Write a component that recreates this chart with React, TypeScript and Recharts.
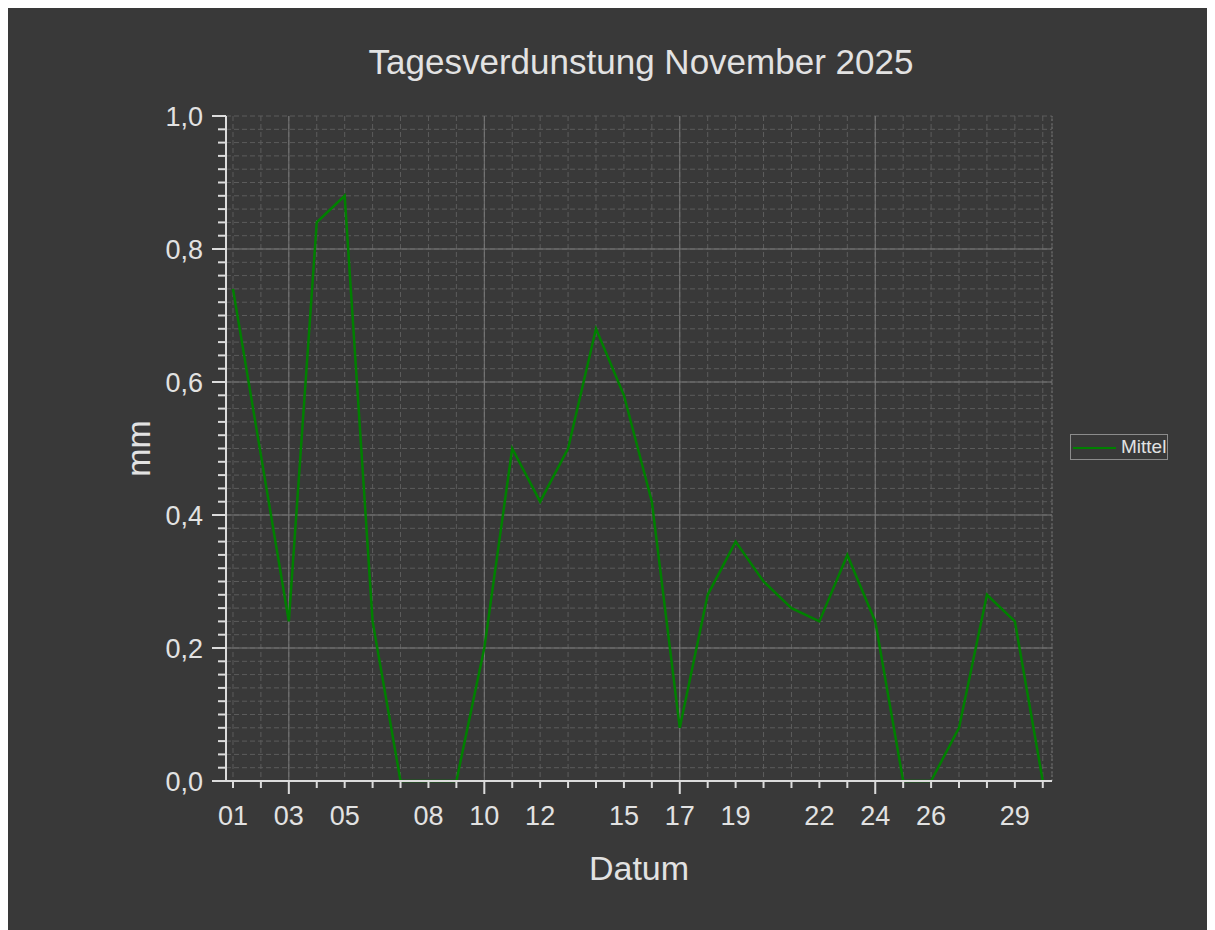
import { CartesianGrid, Legend, Line, LineChart, ReferenceLine, XAxis, YAxis } from 'recharts'

const days = [
  1, 2, 3, 4, 5, 6, 7, 8, 9, 10, 11, 12, 13, 14, 15,
  16, 17, 18, 19, 20, 21, 22, 23, 24, 25, 26, 27, 28, 29, 30,
]
const mittel = [
  0.74, 0.49, 0.24, 0.84, 0.88, 0.24, 0, 0, 0, 0.2, 0.5, 0.42, 0.5, 0.68, 0.58,
  0.42, 0.08, 0.28, 0.36, 0.3, 0.26, 0.24, 0.34, 0.24, 0, 0, 0.08, 0.28, 0.24, 0,
]
const xLabelDays = [1, 3, 5, 8, 10, 12, 15, 17, 19, 22, 24, 26, 29]
const xMajorDays = [3, 10, 17, 24]
const yMajor = [0, 0.2, 0.4, 0.6, 0.8, 1]
const yGridMajor = [0.2, 0.4, 0.6, 0.8]
const yMinor = Array.from({ length: 51 }, (_, i) => Math.round(i * 2) / 100)
const xDomain = [0.75, 30.33]

const data = days.map((d, i) => ({ day: d, Mittel: mittel[i] }))

const FONT = "'Liberation Sans', Arial, sans-serif"
const TEXT = '#e2e2e2'
const AXIS = '#dcdcdc'
const GREEN = '#008000'

const fmtY = (v: number) => v.toFixed(1).replace('.', ',')
const fmtDay = (v: number) => String(v).padStart(2, '0')

function XTick(props: any) {
  const { x, y, payload } = props
  const v = payload.value
  const major = xMajorDays.includes(v)
  const labeled = xLabelDays.includes(v)
  return (
    <g>
      <line x1={x} x2={x} y1={y} y2={y + (major ? 13 : 7)} stroke={AXIS} strokeWidth={2} />
      {labeled && (
        <text x={x} y={y + 44} textAnchor='middle' fill={TEXT} fontSize={27} fontFamily={FONT}>
          {fmtDay(v)}
        </text>
      )}
    </g>
  )
}

function YTick(props: any) {
  const { x, y, payload } = props
  const v = payload.value
  const major = yMajor.some((m) => Math.abs(m - v) < 1e-6)
  return (
    <g>
      <line x1={x} x2={x - (major ? 14 : 8)} y1={y} y2={y} stroke={AXIS} strokeWidth={2} />
      {major && (
        <text x={x - 23} y={y + 9.5} textAnchor='end' fill={TEXT} fontSize={27} fontFamily={FONT}>
          {fmtY(v)}
        </text>
      )}
    </g>
  )
}

function LegendBox(props: any) {
  const item = props.payload?.[0]
  return (
    <div
      style={{
        width: 96,
        height: 24,
        border: '1px solid #8c8c8c',
        position: 'relative',
        fontFamily: FONT,
      }}
    >
      <div
        style={{
          position: 'absolute',
          left: 2,
          top: 12,
          width: 43,
          height: 2,
          background: item?.color ?? GREEN,
        }}
      />
      <span
        style={{
          position: 'absolute',
          left: 50,
          top: 1,
          fontSize: 19,
          lineHeight: '22px',
          color: TEXT,
        }}
      >
        {item?.value ?? 'Mittel'}
      </span>
    </div>
  )
}

export default function App() {
  return (
    <div style={{ position: 'relative', width: 1207, height: 922, background: '#393939' }}>
      <div
        style={{
          position: 'absolute',
          left: 0,
          width: 1266,
          top: 36,
          textAlign: 'center',
          fontSize: 35,
          lineHeight: '35px',
          fontFamily: FONT,
          color: TEXT,
        }}
      >
        Tagesverdunstung November 2025
      </div>
      <LineChart
        width={1207}
        height={922}
        data={data}
        margin={{ top: 108, right: 163, bottom: 89, left: 0 }}
      >
        <CartesianGrid stroke='#5c5c5c' strokeDasharray='5 3' />
        {yGridMajor.map((v) => (
          <ReferenceLine key={'y' + v} y={v} stroke='#7a7a7a' strokeWidth={1} />
        ))}
        {xMajorDays.map((v) => (
          <ReferenceLine key={'x' + v} x={v} stroke='#7a7a7a' strokeWidth={1} />
        ))}
        <ReferenceLine x={xDomain[1]} stroke='#6a6a6a' strokeDasharray='2 2' />
        <XAxis
          dataKey='day'
          type='number'
          domain={xDomain}
          allowDataOverflow
          ticks={days}
          interval={0}
          height={60}
          tickSize={0}
          tickMargin={0}
          tickLine={false}
          axisLine={{ stroke: AXIS, strokeWidth: 2 }}
          tick={<XTick />}
          label={({ viewBox }: any) => (
            <text
              x={viewBox.x + viewBox.width / 2}
              y={viewBox.y + 99}
              textAnchor='middle'
              fill={TEXT}
              fontSize={34}
              fontFamily={FONT}
            >
              Datum
            </text>
          )}
        />
        <YAxis
          type='number'
          domain={[0, 1]}
          ticks={yMinor}
          interval={0}
          width={218}
          tickSize={0}
          tickMargin={0}
          tickLine={false}
          axisLine={{ stroke: AXIS, strokeWidth: 2 }}
          tick={<YTick />}
          label={({ viewBox }: any) => {
            const cx = 142
            const cy = viewBox.y + viewBox.height / 2
            return (
              <text
                x={cx}
                y={cy}
                transform={`rotate(-90, ${cx}, ${cy})`}
                textAnchor='middle'
                fill={TEXT}
                fontSize={34}
                fontFamily={FONT}
              >
                mm
              </text>
            )
          }}
        />
        <Legend
          layout='horizontal'
          verticalAlign='middle'
          align='center'
          content={<LegendBox />}
          wrapperStyle={{ position: 'absolute', left: 1062, top: 426, width: 'auto', height: 'auto' }}
        />
        <Line
          type='linear'
          dataKey='Mittel'
          stroke={GREEN}
          strokeWidth={2.5}
          dot={false}
          activeDot={false}
          isAnimationActive={false}
        />
      </LineChart>
    </div>
  )
}
